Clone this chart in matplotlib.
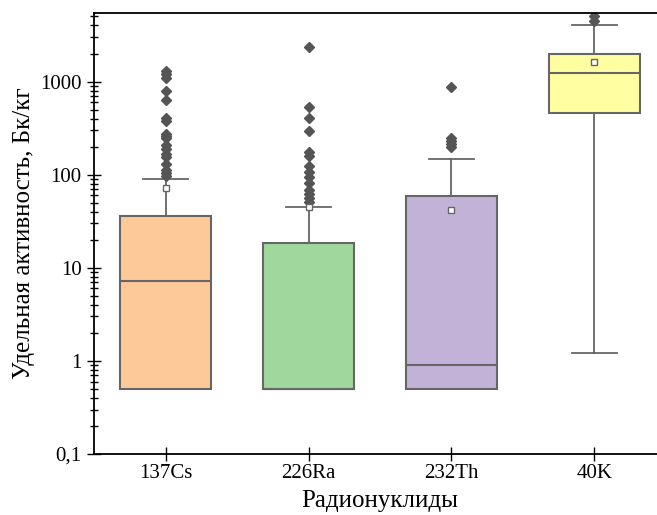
import numpy as np
import matplotlib
matplotlib.use('Agg')
import matplotlib.pyplot as plt
from matplotlib.ticker import FixedLocator, FuncFormatter, NullFormatter

plt.rcParams['font.family'] = ['Liberation Serif', 'DejaVu Serif']

# box statistics, Bq/kg
nuclides = ['137Cs', '226Ra', '232Th', '40K']
q1 = [0.5, 0.5, 0.5, 457]
median = [7.2, 0.5, 0.9, 1230]
q3 = [36, 18.6, 59.5, 1980]
whis_lo = [0.5, 0.5, 0.5, 1.22]
whis_hi = [90, 45, 148, 4050]
means = [72, 45, 42, 1620]
outliers = [
    [1300, 1210, 1095, 795, 627, 401, 378, 274, 260, 248, 208, 189, 167, 155, 130, 112, 104, 97],
    [2370, 530, 409, 297, 177, 159, 124, 108, 95, 82, 69, 62, 56, 51],
    [880, 250, 230, 215, 200],
    [5100, 4450],
]
box_colors = ['#FDC998', '#A0D79C', '#C2B2D7', '#FFFFA2']

stats = []
for i in range(len(nuclides)):
    stats.append({'label': nuclides[i], 'q1': q1[i], 'med': median[i], 'q3': q3[i],
                  'whislo': whis_lo[i], 'whishi': whis_hi[i], 'mean': means[i],
                  'fliers': np.array(outliers[i])})

edge = '#666666'
fig = plt.figure(figsize=(6.57, 5.15), dpi=100)
ax = fig.add_axes([0.1435, 0.1184, 0.8699, 0.8557])

bp = ax.bxp(stats, positions=[1, 2, 3, 4], widths=0.64, capwidths=0.315,
            patch_artist=True, showmeans=True,
            boxprops=dict(edgecolor=edge, linewidth=1.5),
            medianprops=dict(color=edge, linewidth=1.5),
            whiskerprops=dict(color=edge, linewidth=1.3),
            capprops=dict(color=edge, linewidth=1.3),
            flierprops=dict(marker='D', markersize=5, markerfacecolor='#555555',
                            markeredgecolor='#555555'),
            meanprops=dict(marker='s', markersize=4.5, markerfacecolor='white',
                           markeredgecolor=edge, markeredgewidth=1.0))
for patch, c in zip(bp['boxes'], box_colors):
    patch.set_facecolor(c)

ax.set_yscale('log')
ax.set_ylim(0.1, 5400)
ax.set_xlim(0.5, 4.5)

ax.yaxis.set_major_locator(FixedLocator([0.1, 1, 10, 100, 1000]))
ax.yaxis.set_major_formatter(FuncFormatter(lambda v, p: ('%g' % v).replace('.', ',')))
minor = [m * 10.0 ** e for e in range(-1, 4) for m in range(2, 10)]
ax.yaxis.set_minor_locator(FixedLocator(minor))
ax.yaxis.set_minor_formatter(NullFormatter())

ax.tick_params(axis='both', which='major', direction='inout', length=10, width=1.0,
               labelsize=15, pad=2)
ax.tick_params(axis='y', which='minor', direction='inout', length=6, width=1.0)
ax.tick_params(axis='y', which='major', pad=4)
ax.tick_params(axis='x', which='minor', bottom=False)

ax.spines['right'].set_visible(False)
for s in ['left', 'bottom', 'top']:
    ax.spines[s].set_linewidth(1.3)

ax.set_xlabel('Радионуклиды', fontsize=18, labelpad=5)
ax.set_ylabel('Удельная активность, Бк/кг', fontsize=18, labelpad=4)

fig.savefig('out.png', dpi=100)
